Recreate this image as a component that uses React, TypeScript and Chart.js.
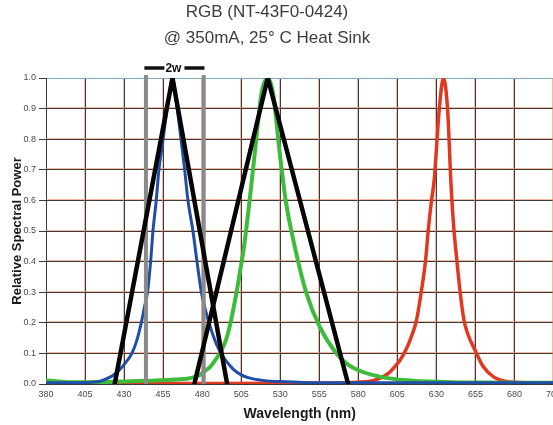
import React, { useEffect, useRef } from "react";
import { Chart, registerables } from "chart.js";

Chart.register(...registerables);

// ---- text ----
const titleLines = ["RGB (NT-43F0-0424)", "@ 350mA, 25\u00B0 C Heat Sink"];
const xTitle = "Wavelength (nm)";
const yTitle = "Relative Spectral Power";
const widthLabel = "2w";

// ---- axes ----
const xMin = 380;
const xMax = 705;
const xStep = 25;
const yMin = 0;
const yMax = 1;
const yStep = 0.1;

// ---- blue spectrum ----
const blueNm = [380, 395, 405, 414, 420, 424, 427, 431, 435, 438, 441, 443, 445, 447, 448.5, 450.6, 452.3, 454.5, 456.5, 458.5, 461, 463.5, 466, 468.8, 470.9, 474.1, 476.7, 479.5, 482.2, 485, 488, 491, 494, 497, 500, 505, 510, 520, 530, 545, 570, 705];
const blueVal = [0.004, 0.004, 0.005, 0.008, 0.02, 0.032, 0.046, 0.07, 0.1, 0.14, 0.2, 0.25, 0.3, 0.4, 0.5, 0.6, 0.7, 0.78, 0.86, 0.93, 1.0, 0.92, 0.82, 0.7, 0.6, 0.5, 0.4, 0.3, 0.24, 0.19, 0.145, 0.11, 0.085, 0.065, 0.048, 0.03, 0.02, 0.011, 0.008, 0.005, 0.004, 0.004];

// ---- green spectrum ----
const greenNm = [380, 385, 395, 410, 430, 446, 460, 472, 478, 482.7, 485, 488, 491.2, 495, 497.6, 501.9, 504, 506.8, 510.4, 513.7, 518, 522, 525.4, 529.7, 533.5, 539.3, 546.8, 555.3, 566, 573, 580, 593.8, 605, 615, 628, 640, 660, 705];
const greenVal = [0.012, 0.01, 0.006, 0.006, 0.008, 0.011, 0.014, 0.019, 0.028, 0.046, 0.055, 0.075, 0.1, 0.14, 0.187, 0.296, 0.36, 0.449, 0.6, 0.754, 0.95, 1.0, 0.95, 0.754, 0.6, 0.449, 0.296, 0.187, 0.1, 0.065, 0.045, 0.024, 0.015, 0.011, 0.008, 0.006, 0.005, 0.004];

// ---- red spectrum ----
const redNm = [380, 500, 560, 580, 590, 596, 600, 603.4, 607, 610.4, 614, 617.3, 620.5, 623.1, 624.8, 626.9, 628.6, 631.8, 634.5, 637.2, 639.3, 641, 643, 645, 647.6, 650, 654.7, 660, 666.4, 675, 690, 705];
const redVal = [0.002, 0.002, 0.003, 0.006, 0.012, 0.024, 0.038, 0.057, 0.08, 0.111, 0.155, 0.209, 0.307, 0.405, 0.503, 0.6, 0.667, 0.895, 1.0, 0.895, 0.66, 0.52, 0.41, 0.31, 0.21, 0.165, 0.111, 0.057, 0.024, 0.008, 0.004, 0.003];

// ---- triangle (2w) constructions ----
const blueTriNm = [424, 461, 496];
const blueTriVal = [0, 1, 0];
const greenTriNm = [475, 522, 573.5];
const greenTriVal = [0, 1, 0];
const markerLeftNm = [444, 444];
const markerRightNm = [481, 481];
const markerVal = [0, 1.01];
const widthBarNm = [443, 481.5];
const widthBarVal = [1.033, 1.033];

const fontFamily = "'Liberation Sans', Arial, Helvetica, sans-serif";
const gridDark = "#3a3a3a";
const gridOrange = "rgba(238,130,90,0.55)";
const gridTop = "#7fa9bb";

const pts = (xs: number[], ys: number[]) => xs.map((x, i) => ({ x, y: ys[i] }));

const titlePlugin = {
  id: "topTitle",
  afterDraw(chart: any) {
    const ctx = chart.ctx;
    ctx.save();
    ctx.fillStyle = "#3c3c3c";
    ctx.font = `17px ${fontFamily}`;
    ctx.textAlign = "center";
    ctx.textBaseline = "alphabetic";
    ctx.fillText(titleLines[0], 267, 17);
    ctx.fillText(titleLines[1], 267, 43);
    ctx.restore();
  },
};

const offsetGridPlugin = {
  id: "offsetGrid",
  beforeDatasetsDraw(chart: any) {
    const { ctx, chartArea, scales } = chart;
    const xs = scales.x;
    const ys = scales.y;
    ctx.save();
    ctx.strokeStyle = gridOrange;
    ctx.lineWidth = 1;
    xs.ticks.forEach((t: any, i: number) => {
      if (i === 0) return;
      const px = Math.round(xs.getPixelForValue(t.value) - 0.5) + 0.5 - 1;
      ctx.beginPath();
      ctx.moveTo(px, chartArea.top);
      ctx.lineTo(px, chartArea.bottom);
      ctx.stroke();
    });
    ys.ticks.forEach((t: any, i: number) => {
      if (i === 0 || i === ys.ticks.length - 1) return;
      const py = Math.round(ys.getPixelForValue(t.value) - 0.5) + 0.5 - 1;
      ctx.beginPath();
      ctx.moveTo(chartArea.left, py);
      ctx.lineTo(chartArea.right, py);
      ctx.stroke();
    });
    ctx.restore();
  },
};

const widthLabelPlugin = {
  id: "widthLabel",
  afterDatasetsDraw(chart: any) {
    const { ctx, scales } = chart;
    const x = scales.x.getPixelForValue((widthBarNm[0] + widthBarNm[1]) / 2);
    const y = scales.y.getPixelForValue(widthBarVal[0]);
    ctx.save();
    ctx.fillStyle = "#ffffff";
    ctx.fillRect(x - 10, y - 7, 20, 14);
    ctx.fillStyle = "#111111";
    ctx.font = `bold 12px ${fontFamily}`;
    ctx.textAlign = "center";
    ctx.textBaseline = "middle";
    ctx.fillText(widthLabel, x - 1, y + 0.5);
    ctx.restore();
  },
};

export default function App() {
  const ref = useRef<HTMLCanvasElement | null>(null);

  useEffect(() => {
    if (!ref.current) return;
    const base = { pointRadius: 0, pointHoverRadius: 0, fill: false };
    const chart = new Chart(ref.current, {
      type: "line",
      data: {
        datasets: [
          { ...base, data: pts(blueTriNm, blueTriVal), borderColor: "#050505", borderWidth: 4.5, borderJoinStyle: "round", borderCapStyle: "round", tension: 0, order: 0 },
          { ...base, data: pts(greenTriNm, greenTriVal), borderColor: "#050505", borderWidth: 4.5, borderJoinStyle: "round", borderCapStyle: "round", tension: 0, order: 0 },
          { ...base, data: pts(markerLeftNm, markerVal), borderColor: "#8a8a8a", borderWidth: 4, tension: 0, order: 1, clip: false },
          { ...base, data: pts(markerRightNm, markerVal), borderColor: "#8a8a8a", borderWidth: 4, tension: 0, order: 1, clip: false },
          { ...base, data: pts(widthBarNm, widthBarVal), borderColor: "#111111", borderWidth: 3.5, tension: 0, order: 1, clip: false },
          { ...base, data: pts(blueNm, blueVal), borderColor: "#1f4ea6", borderWidth: 3, cubicInterpolationMode: "monotone", order: 2 },
          { ...base, data: pts(greenNm, greenVal), borderColor: "#3fbb3c", borderWidth: 4, cubicInterpolationMode: "monotone", order: 3 },
          { ...base, data: pts(redNm, redVal), borderColor: "#e2381f", borderWidth: 3.5, cubicInterpolationMode: "monotone", order: 4 },
        ] as any,
      },
      options: {
        responsive: false,
        maintainAspectRatio: false,
        animation: false,
        devicePixelRatio: 1,
        layout: { padding: { top: 78, left: 0, right: 10, bottom: 0 } },
        plugins: { legend: { display: false }, tooltip: { enabled: false }, title: { display: false } },
        scales: {
          x: {
            type: "linear",
            min: xMin,
            max: xMax,
            afterFit: (s: any) => { s.height = 41; },
            ticks: { stepSize: xStep, padding: 5, color: "#4a4a4a", font: { family: fontFamily, size: 9 }, maxRotation: 0, autoSkip: false },
            grid: { color: gridDark, lineWidth: 1, drawTicks: false },
            border: { color: gridDark, width: 1 },
            title: { display: true, text: xTitle, color: "#1a1a1a", font: { family: fontFamily, size: 14, weight: "bold" }, padding: { top: 0, bottom: 2 } },
          },
          y: {
            type: "linear",
            min: yMin,
            max: yMax,
            afterFit: (s: any) => { s.width = 46; },
            ticks: { stepSize: yStep, padding: 3, color: "#4a4a4a", font: { family: fontFamily, size: 9 }, callback: (v: any) => Number(v).toFixed(1) },
            grid: {
              color: (c: any) => (c.tick && Math.abs(c.tick.value - yMax) < 1e-6 ? gridTop : gridDark),
              lineWidth: 1,
              drawTicks: true,
              tickLength: 7,
              tickColor: gridDark,
            },
            border: { color: gridDark, width: 1 },
            title: { display: true, text: yTitle, color: "#1a1a1a", font: { family: fontFamily, size: 13, weight: "bold" }, padding: { top: 10, bottom: 0 } },
          },
        },
      } as any,
      plugins: [titlePlugin, offsetGridPlugin, widthLabelPlugin],
    });
    return () => chart.destroy();
  }, []);

  return (
    <div style={{ position: "fixed", left: 0, top: 0, width: 553, height: 425, overflow: "hidden", background: "#ffffff" }}>
      <canvas ref={ref} width={566} height={425} style={{ display: "block", width: 566, height: 425 }} />
    </div>
  );
}
